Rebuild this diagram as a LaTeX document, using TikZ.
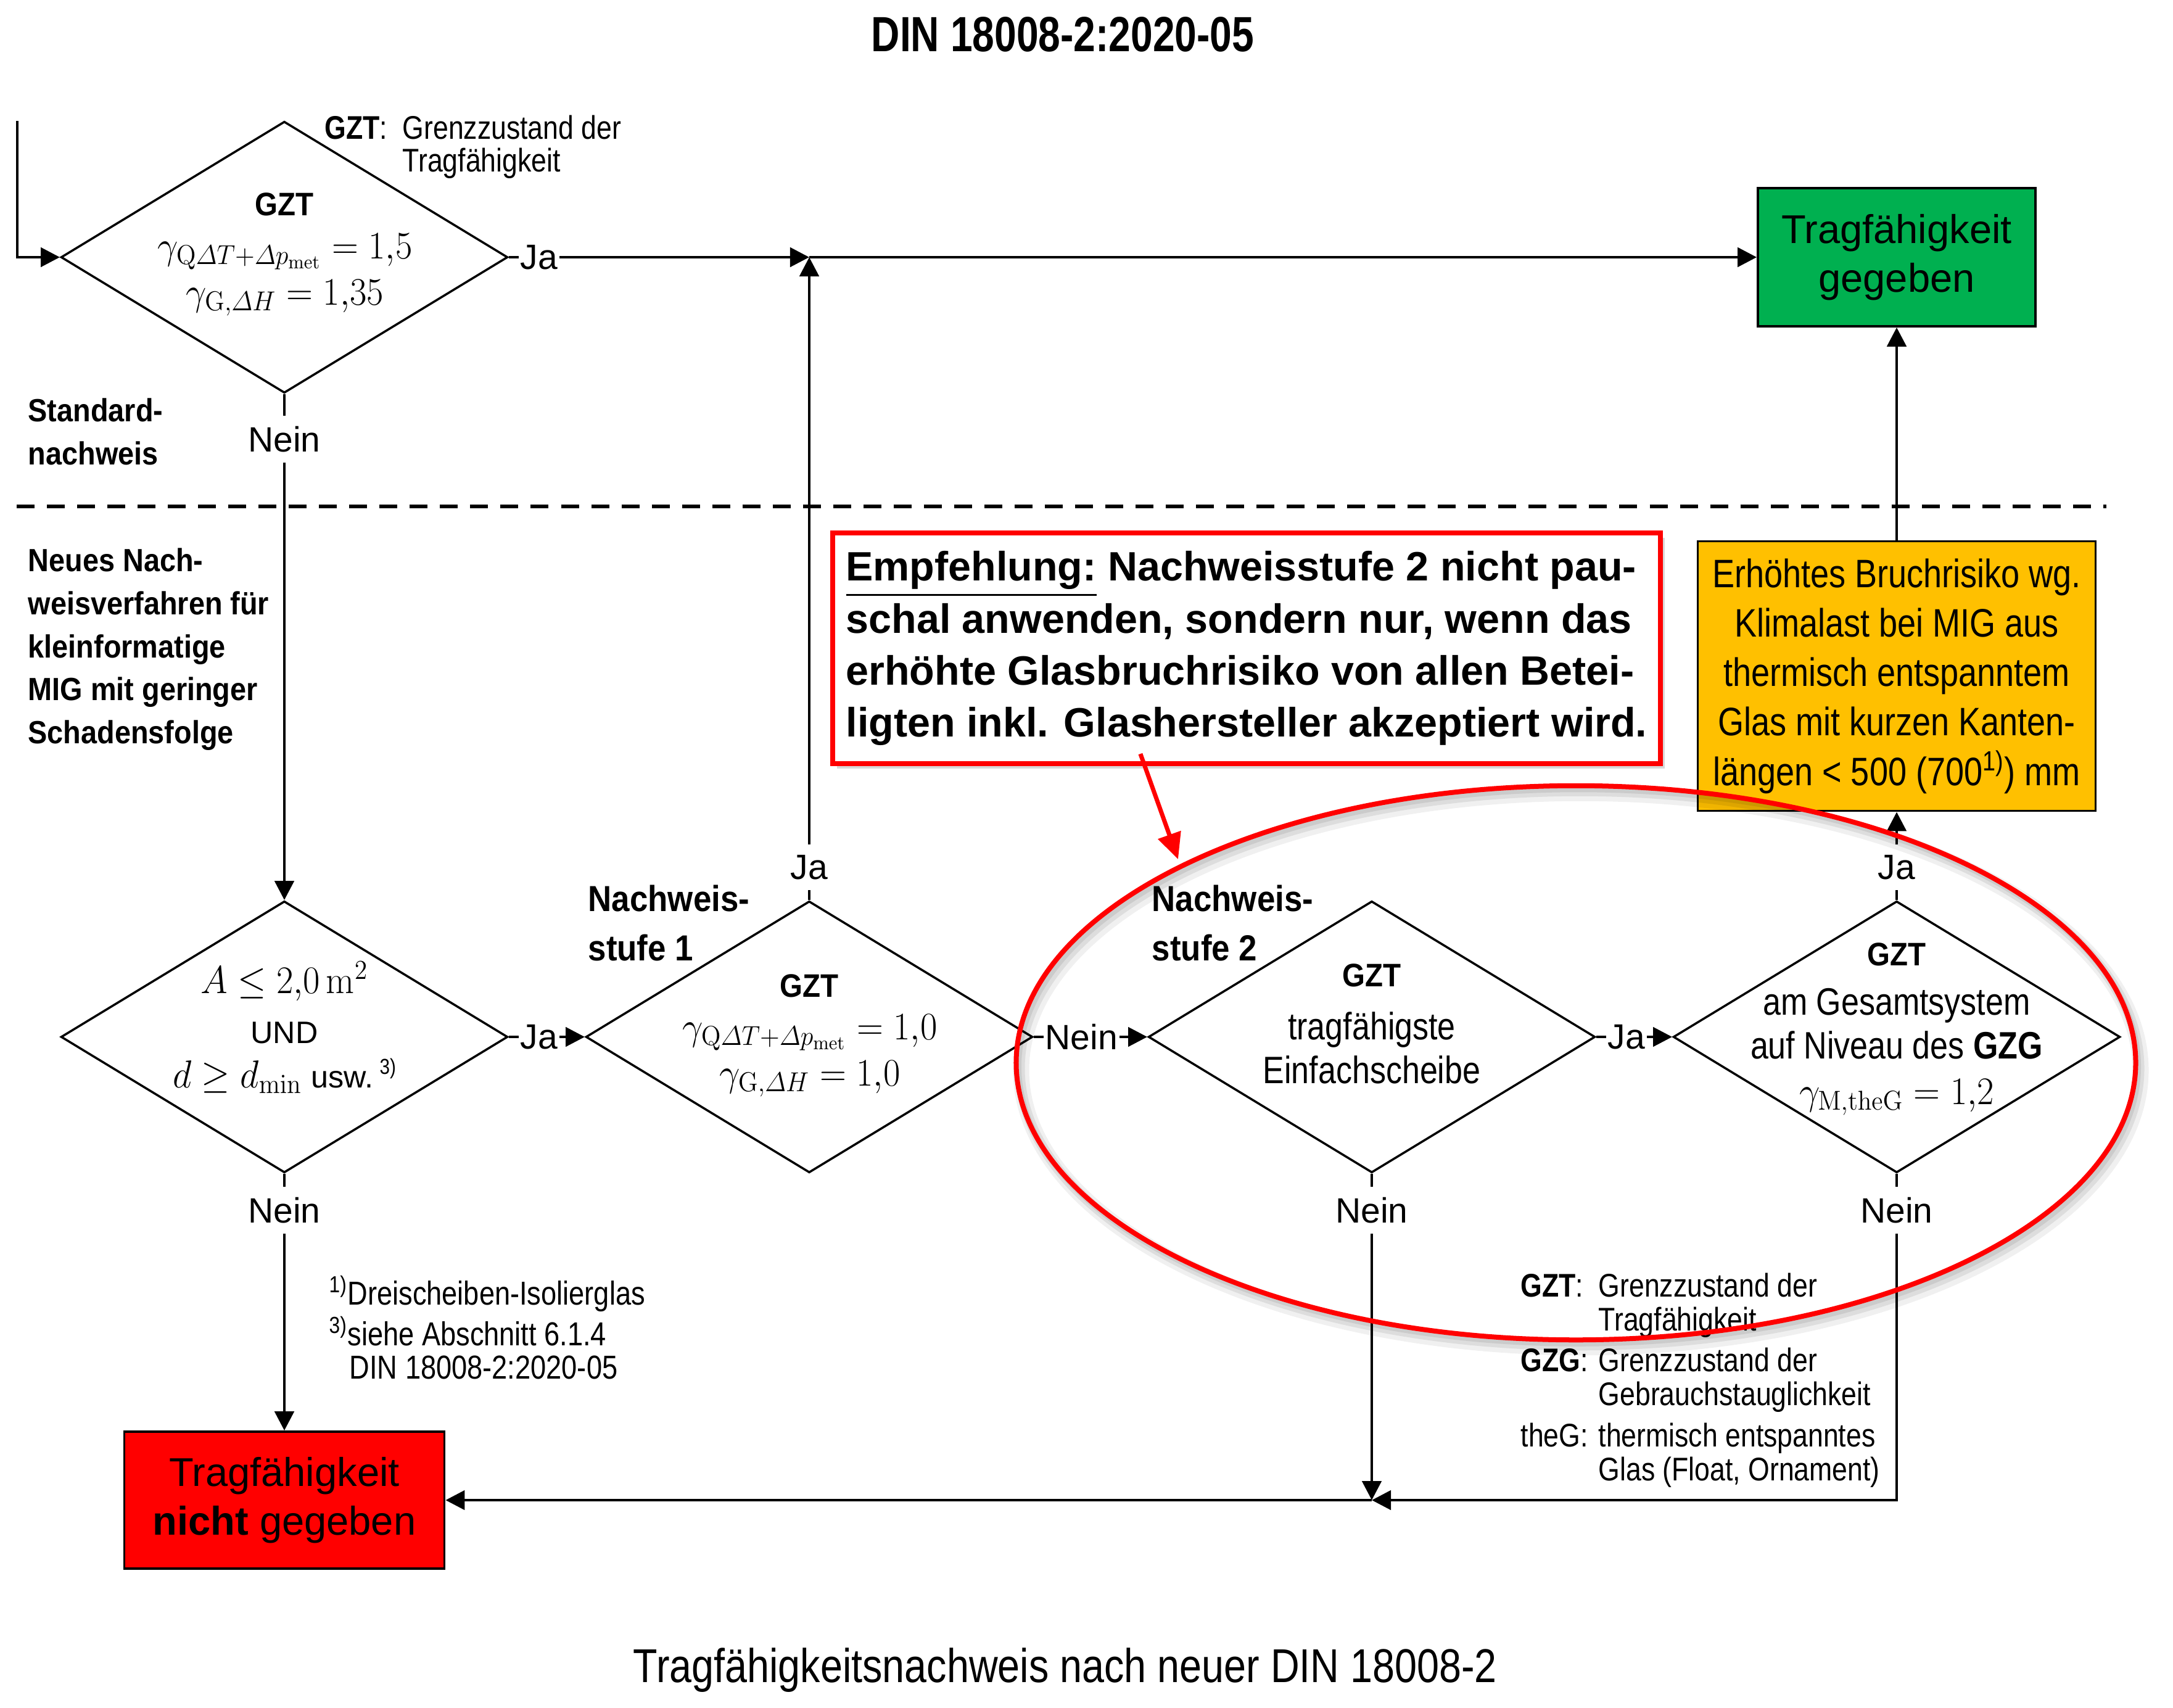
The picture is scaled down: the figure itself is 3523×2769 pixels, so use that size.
\RequirePackage{fix-cm}
\documentclass[tikz,border=0pt]{standalone}
\usepackage{amsmath}
\usepackage{graphicx}
\usepackage[no-math]{fontspec}
\setmainfont{Liberation Sans}
\newfontfamily\nar{Liberation Sans}[FakeStretch=0.84]
\newfontfamily\nbf{Liberation Sans}[FakeStretch=0.9]
\newfontfamily\ntit{Liberation Sans}[FakeStretch=0.8]
\usetikzlibrary{shapes.geometric,arrows.meta,shadows}
\newcommand\fsz[2]{\fontsize{#1}{#2}\selectfont}
\newcommand\mq[1]{\scalebox{0.94}[1]{#1}}
\definecolor{grn}{HTML}{00B050}
\definecolor{yel}{HTML}{FFC000}
\definecolor{rd}{HTML}{FF0000}
\begin{document}
\begin{tikzpicture}[x=0.01cm,y=-0.01cm,
  dia/.style={draw, diamond, minimum width=7.24cm, minimum height=4.4cm, inner sep=0pt, line width=1pt},
  lab/.style={inner xsep=0.02cm, inner ysep=0.16cm, font=\fsz{16.2}{19}},
  ln/.style={line width=1.4pt},
  arr/.style={line width=1.4pt, -{Triangle[length=0.31cm,width=0.31cm]}},
  mth/.style={anchor=base, inner sep=0pt, font=\fsz{18}{21}},
  gzt/.style={anchor=base, inner sep=0pt, font=\nbf\bfseries\fsz{15}{18}},
  dtx/.style={anchor=base, inner sep=0pt, font=\nar\fsz{17.6}{21}},
  blab/.style={anchor=base west, inner sep=0pt, font=\nbf\bfseries\fsz{14.8}{18}},
  nlab/.style={anchor=base west, inner sep=0pt, font=\nbf\bfseries\fsz{16.7}{20}},
  leg/.style={anchor=base west, inner sep=0pt, font=\nar\fsz{15.1}{18}},
  foot/.style={anchor=base west, inner sep=0pt, font=\nar\fsz{15.3}{18}},
  ringst/.style={ellipse, minimum width=18.14cm, minimum height=8.98cm, inner sep=0pt},
]
\fill[white] (0,0) rectangle (3523,2769);
\useasboundingbox (0,0) rectangle (3523,2769);

% titles
\node[anchor=base, inner sep=0pt, font=\ntit\bfseries\fsz{22.8}{26}] (title) at (1723,83) {DIN 18008-2:2020-05};
\node[anchor=base, inner sep=0pt, font=\nar\fsz{21.9}{25}] (caption) at (1727,2727) {Tragfähigkeitsnachweis nach neuer DIN 18008-2};

% separator
\coordinate (dl) at (27,821);
\coordinate (dr) at (3415,821);
\draw[line width=0.065cm, dash pattern=on 0.29cm off 0.2cm] (dl) -- (dr);

% diamonds
\node[dia] (D1) at (461,417) {};
\node[dia] (DA) at (461,1681) {};
\node[dia] (DB) at (1312,1681) {};
\node[dia] (DC) at (2224,1681) {};
\node[dia] (DD) at (3075,1681) {};

% diamond texts
\node[gzt] (t1a) at (461,349) {GZT};
\node[mth] (t1b) at (462,419) {\mq{$\gamma_{\mathrm{Q}\varDelta T+\varDelta p_{\mathrm{met}}} = 1{,}5$}};
\node[mth] (t1c) at (462,494) {\mq{$\gamma_{\mathrm{G},\varDelta H} = 1{,}35$}};

\node[mth] (tAa) at (461,1610) {\mq{$A \leq 2{,}0\,\mathrm{m}^2$}};
\node[anchor=base, inner sep=0pt, font=\fsz{14.3}{17}] (tAb) at (461,1691) {UND};
\node[mth] (tAc) at (461,1763) {\mq{$d \geq d_{\min}$}\hspace{0.15cm}{\fsz{14.3}{17}usw.}\,{\nar\fsz{10}{12}\raisebox{0.22cm}{3)}}};

\node[gzt] (tBa) at (1312,1616) {GZT};
\node[mth] (tBb) at (1313,1685) {\mq{$\gamma_{\mathrm{Q}\varDelta T+\varDelta p_{\mathrm{met}}} = 1{,}0$}};
\node[mth] (tBc) at (1313,1760) {\mq{$\gamma_{\mathrm{G},\varDelta H} = 1{,}0$}};

\node[gzt] (tCa) at (2224,1599) {GZT};
\node[dtx] (tCb) at (2224,1685) {tragfähigste};
\node[dtx] (tCc) at (2224,1756) {Einfachscheibe};

\node[gzt] (tDa) at (3075,1565) {GZT};
\node[dtx] (tDb) at (3075,1645) {am Gesamtsystem};
\node[dtx] (tDc) at (3075,1716) {auf Niveau des \textbf{GZG}};
\node[mth] (tDd) at (3075,1790) {\mq{$\gamma_{\mathrm{M,theG}} = 1{,}2$}};

% boxes
\node[draw, line width=1pt, fill=grn, minimum width=4.5cm, minimum height=2.24cm, align=center, font=\fsz{18.5}{22.5}] (green) at (3075,417) {Tragfähigkeit\\gegeben};
\node[draw, line width=1pt, fill=rd, minimum width=5.19cm, minimum height=2.22cm, align=center, font=\fsz{18.5}{22.5}] (red) at (461,2432) {Tragfähigkeit\\\textbf{nicht} gegeben};
\node[draw, line width=1pt, fill=yel, minimum width=6.45cm, minimum height=4.37cm, align=center, font=\nar\fsz{18.3}{22.8}] (yellow) at (3075,1096) {Erhöhtes Bruchrisiko wg.\\Klimalast bei MIG aus\\thermisch entspanntem\\Glas mit kurzen Kanten-\\längen < 500 (700\textsuperscript{1)}) mm};
\node[draw=rd, line width=0.08cm, fill=white, minimum width=13.41cm, minimum height=3.74cm, align=left, inner xsep=0.18cm, font=\bfseries\fsz{18.9}{23.9},
  drop shadow={shadow xshift=0.07cm, shadow yshift=-0.08cm, opacity=0.3}] (emp) at (2021,1051)
  {\underline{Empfehlung:} Nachweisstufe 2 nicht pau-\\schal anwenden, sondern nur, wenn das\\erhöhte Glasbruchrisiko von allen Betei-\\ligten inkl. Glashersteller akzeptiert wird.};

% side labels
\node[blab] (sd1) at (45,683) {Standard-};
\node[blab] (sd2) at (45,753) {nachweis};
\node[blab] (nv1) at (45,926) {Neues Nach-};
\node[blab] (nv2) at (45,996) {weisverfahren für};
\node[blab] (nv3) at (45,1066) {kleinformatige};
\node[blab] (nv4) at (45,1135) {MIG mit geringer};
\node[blab] (nv5) at (45,1205) {Schadensfolge};
\node[nlab] (ns1a) at (953,1477) {Nachweis-};
\node[nlab] (ns1b) at (953,1557) {stufe 1};
\node[nlab] (ns2a) at (1867,1477) {Nachweis-};
\node[nlab] (ns2b) at (1867,1557) {stufe 2};

% legends
\node[leg] (lg1) at (526,225) {\textbf{GZT}:};
\node[leg] (lg2) at (652,225) {Grenzzustand der};
\node[leg] (lg3) at (652,278) {Tragfähigkeit};
\node[leg] (lb1) at (2465,2102) {\textbf{GZT}:};
\node[leg] (lb2) at (2591,2102) {Grenzzustand der};
\node[leg] (lb3) at (2591,2157) {Tragfähigkeit};
\node[leg] (lb4) at (2465,2223) {\textbf{GZG}:};
\node[leg] (lb5) at (2591,2223) {Grenzzustand der};
\node[leg] (lb6) at (2591,2278) {Gebrauchstauglichkeit};
\node[leg] (lb7) at (2465,2345) {theG:};
\node[leg] (lb8) at (2591,2345) {thermisch entspanntes};
\node[leg] (lb9) at (2591,2400) {Glas (Float, Ornament)};

% footnotes
\node[foot] (fn1) at (533,2115) {\textsuperscript{1)}Dreischeiben-Isolierglas};
\node[foot] (fn2) at (533,2181) {\textsuperscript{3)}siehe Abschnitt 6.1.4};
\node[foot] (fn3) at (566,2235) {DIN 18008-2:2020-05};

% Ja / Nein labels
\node[lab] (Nein1) at (461,712) {Nein};
\node[lab, anchor=west] (Ja1) at ([xshift=0.16cm]D1.east) {Ja};
\node[lab, anchor=west] (JaA) at ([xshift=0.16cm]DA.east) {Ja};
\node[lab, anchor=west] (NeinB) at ([xshift=0.16cm]DB.east) {Nein};
\node[lab, anchor=west] (JaC) at ([xshift=0.16cm]DC.east) {Ja};
\node[lab] (JaB) at (1312,1406) {Ja};
\node[lab] (JaD) at (3075,1406) {Ja};
\node[lab] (NeinA) at (461,1962) {Nein};
\node[lab] (NeinC) at (2224,1962) {Nein};
\node[lab] (NeinD) at (3075,1962) {Nein};

% coordinates
\coordinate (start) at (28,196);
\coordinate (J1) at (1312,417);
\coordinate (J2) at (2224,2432);
\coordinate (tipE) at (1910,1393);

% connectors
\draw[arr] (start) |- (D1.west);
\draw[ln] (D1.east) -- (Ja1.west);
\draw[arr] (Ja1.east) -- (J1);
\draw[arr] (J1) -- (green.west);
\draw[ln] (DB.north) -- (JaB.south);
\draw[arr] (JaB.north) -- (J1);
\draw[arr] (yellow.north) -- (green.south);
\draw[ln] (DD.north) -- (JaD.south);
\draw[arr] (JaD.north) -- (yellow.south);
\draw[ln] (D1.south) -- (Nein1.north);
\draw[arr] (Nein1.south) -- (DA.north);
\draw[ln] (DA.east) -- (JaA.west);
\draw[arr] (JaA.east) -- (DB.west);
\draw[ln] (DB.east) -- (NeinB.west);
\draw[arr] (NeinB.east) -- (DC.west);
\draw[ln] (DC.east) -- (JaC.west);
\draw[arr] (JaC.east) -- (DD.west);
\draw[ln] (DA.south) -- (NeinA.north);
\draw[arr] (NeinA.south) -- (red.north);
\draw[ln] (DC.south) -- (NeinC.north);
\draw[arr] (NeinC.south) -- (J2);
\draw[ln] (DD.south) -- (NeinD.north);
\draw[arr] (NeinD.south) |- (J2);
\draw[arr] (J2) -- (red.east);

% highlight ellipse with soft shadow
\node[ringst, draw=black, draw opacity=0.06, line width=0.26cm] (ringsh1) at (2563,1735) {};
\node[ringst, draw=black, draw opacity=0.08, line width=0.16cm] (ringsh2) at (2561,1732) {};
\node[ringst, draw=black, draw opacity=0.08, line width=0.09cm] (ringsh3) at (2559,1729) {};
\node[ringst, draw=rd, line width=0.08cm] (ring) at (2555,1723) {};
\draw[rd, line width=0.07cm, -{Triangle[length=0.42cm,width=0.38cm]}] ([xshift=-1.72cm,yshift=0.2cm]emp.south) -- (tipE);
\end{tikzpicture}
\end{document}
